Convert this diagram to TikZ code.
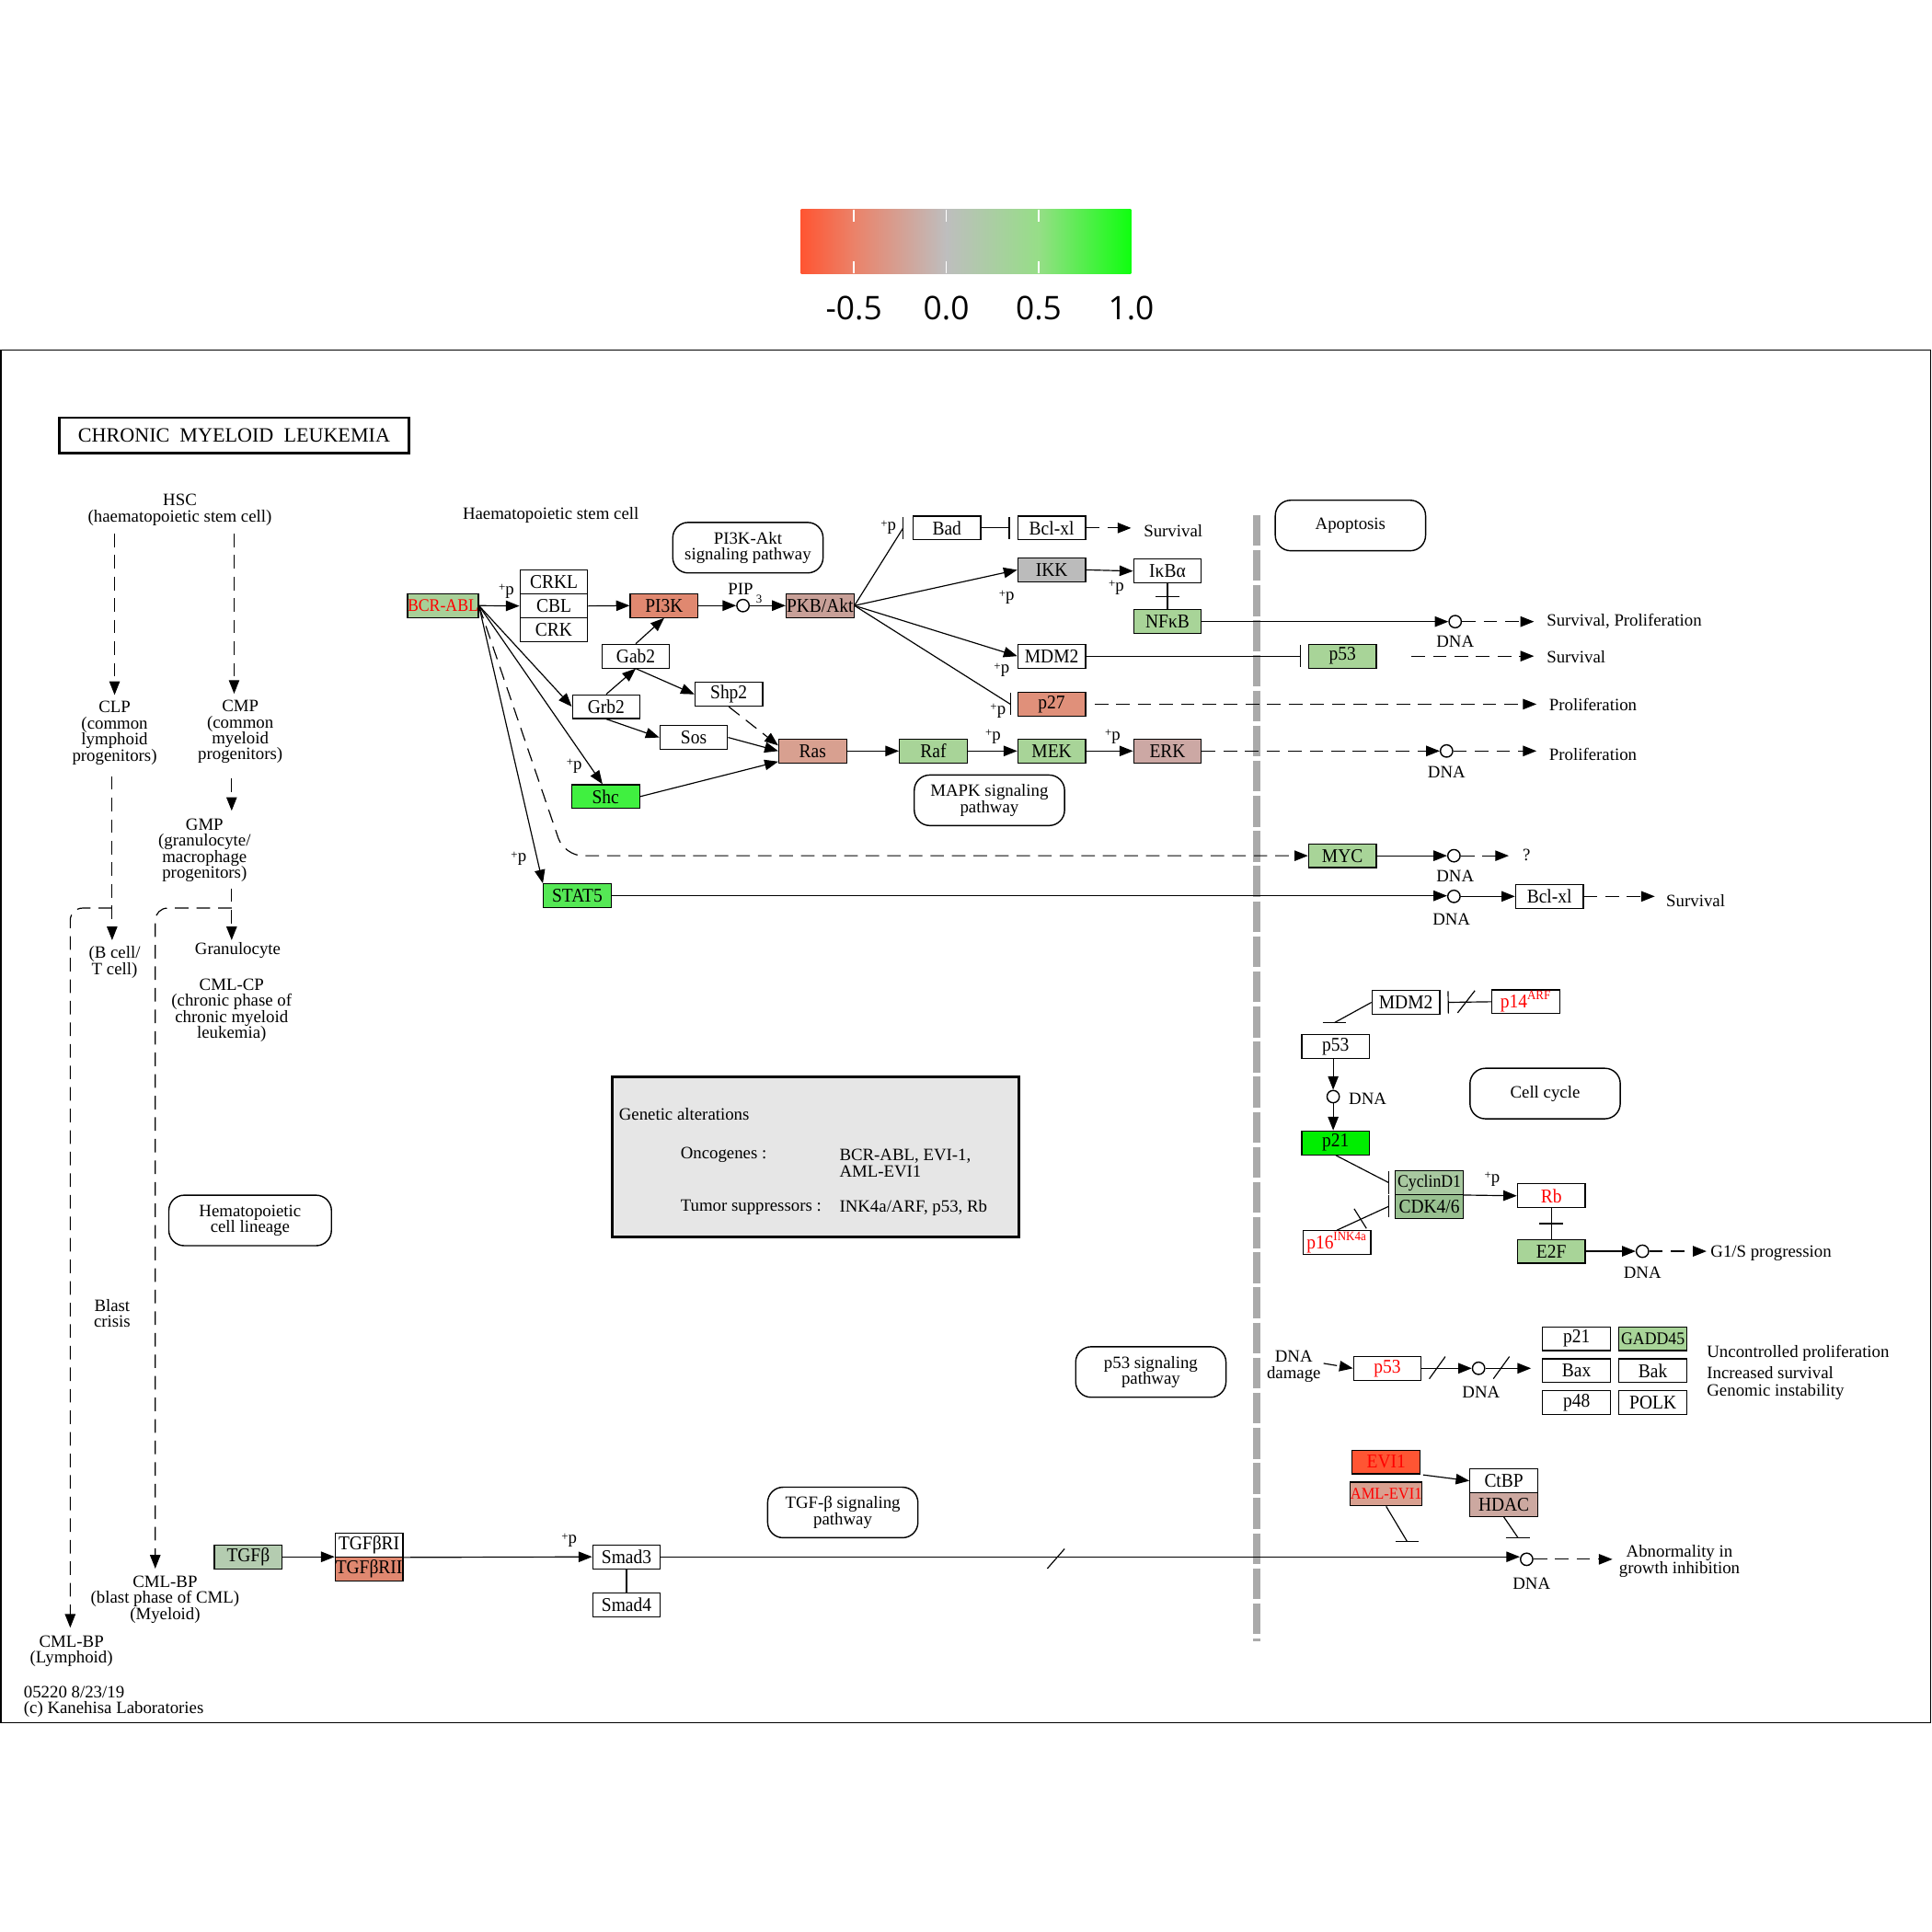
\documentclass[tikz,border=0pt]{standalone}
\usepackage{fontspec}
\setmainfont{Liberation Serif}
\newfontfamily\genefont{Liberation Serif}[FakeStretch=0.92]
\newfontfamily\cbfont{Open Sans}
\usetikzlibrary{arrows.meta,calc}
\definecolor{cbA}{RGB}{255,85,50}
\definecolor{cbB}{RGB}{235,130,105}
\definecolor{cbC}{RGB}{190,190,190}
\definecolor{cbD}{RGB}{150,222,135}
\definecolor{cbE}{RGB}{15,255,15}
\definecolor{gA}{RGB}{168,212,152}
\definecolor{gBcr}{RGB}{168,208,152}
\definecolor{rPI}{RGB}{224,136,112}
\definecolor{rPKB}{RGB}{200,160,152}
\definecolor{rRas}{RGB}{216,160,144}
\definecolor{gShc}{RGB}{64,240,64}
\definecolor{gStat}{RGB}{85,232,85}
\definecolor{rErk}{RGB}{204,168,164}
\definecolor{gIkk}{RGB}{187,187,187}
\definecolor{rPtw}{RGB}{224,144,122}
\definecolor{gPtw}{RGB}{0,238,0}
\definecolor{gCyc}{RGB}{168,200,160}
\definecolor{gCdk}{RGB}{152,192,144}
\definecolor{rEvi}{RGB}{255,85,51}
\definecolor{rAml}{RGB}{217,160,144}
\definecolor{rHdac}{RGB}{204,168,160}
\definecolor{gTgf}{RGB}{180,204,176}
\definecolor{rTgfr}{RGB}{224,136,112}
\definecolor{gaBg}{RGB}{230,230,230}
\definecolor{sepGray}{RGB}{170,170,170}
\newcommand{\plusp}{\raisebox{1.5pt}{\fontsize{5.5}{6}\selectfont+}p}
\tikzset{
  gene/.style={draw, line width=0.5pt, minimum width=1.1cm, minimum height=0.386cm,
    inner sep=0pt, font=\genefont\fontsize{9}{9}\selectfont},
  tight/.style={font=\genefont\fontsize{8.2}{8.2}\selectfont},
  lbl/.style={inner sep=0pt, font=\fontsize{8}{7.4}\selectfont, align=center},
  pw/.style={draw, line width=0.6pt, rounded corners=0.25cm, minimum width=2.44cm,
    minimum height=0.82cm, inner sep=0pt, font=\fontsize{8}{7.4}\selectfont, align=center},
  dna/.style={circle, draw, line width=0.6pt, minimum size=0.2cm, inner sep=0pt},
  act/.style={-{Triangle[length=0.22cm,width=0.17cm]}, line width=0.5pt},
  inh/.style={-{Bar[width=0.36cm]}, line width=0.5pt},
  dsh/.style={dash pattern=on 0.22cm off 0.13cm},
  ln/.style={line width=0.5pt}
}
\begin{document}
\begin{tikzpicture}[x=0.02cm,y=-0.02cm]
\fill[white] (0,0) rectangle (1568,1568);
\useasboundingbox (0,0) rectangle (1568,1568);

% ---------- colour bar ----------
\shade[left color=cbA, right color=cbB] (650,170) rectangle (693.2,222);
\shade[left color=cbB, right color=cbC] (693,170) rectangle (768.2,222);
\shade[left color=cbC, right color=cbD] (768,170) rectangle (843.2,222);
\shade[left color=cbD, right color=cbE] (843,170) rectangle (918,222);
\foreach \t in {693,768,843}{
  \draw[white, line width=0.6pt] (\t,170) -- (\t,180);
  \draw[white, line width=0.6pt] (\t,212) -- (\t,222);
}
\foreach \t/\s in {693/-0.5,768/0.0,843/0.5,918/1.0}{
  \node[inner sep=0pt, font=\cbfont\fontsize{15}{15}\selectfont] at (\t,250) {\s};
}

% ---------- frame ----------
\draw[line width=0.6pt] (0.6,284) rectangle (1567,1398);

% ---------- title ----------
\node[draw, line width=1.2pt, minimum width=5.68cm, minimum height=0.58cm, inner sep=0pt,
  font=\fontsize{9.4}{10}\selectfont] (title) at (190,353.5) {CHRONIC\ \ MYELOID\ \ LEUKEMIA};

% ---------- separator ----------
\draw[sepGray, line width=0.12cm, dash pattern=on 0.5cm off 0.07cm] (1020,418) -- (1020,1332);

% ---------- left lineage ----------
\node[lbl] (hsc) at (146,414) {HSC\\(haematopoietic stem cell)};
\node[lbl] (clp) at (93,595) {CLP\\(common\\lymphoid\\progenitors)};
\node[lbl] (cmp) at (195,594) {CMP\\(common\\myeloid\\progenitors)};
\node[lbl] (gmp) at (166,690) {GMP\\(granulocyte/\\macrophage\\progenitors)};
\node[lbl] (bt) at (93,781) {(B cell/\\T cell)};
\node[lbl] (gran) at (193,771) {Granulocyte};
\node[lbl] (cmlcp) at (188,820) {CML-CP\\(chronic phase of\\chronic myeloid\\leukemia)};
\node[lbl] (blast) at (91,1066) {Blast\\crisis};
\node[lbl] (bpm) at (134,1298) {CML-BP\\(blast phase of CML)\\(Myeloid)};
\node[lbl] (bpl) at (58,1340) {CML-BP\\(Lymphoid)};
\node[lbl, align=left, anchor=west] (foot) at (19,1381) {05220 8/23/19\\(c) Kanehisa Laboratories};

\draw[act,dsh] (93,433) -- (93,564);
\draw[act,dsh] (190,433) -- (190,563);
\draw[act,dsh] (91,630) -- (91,763);
\draw[act,dsh] (188,632) -- (188,658);
\draw[act,dsh] (188,721) -- (188,763);
\draw[act,dsh,rounded corners=0.2cm] (91,737) -- (57,737) -- (57,1321);
\draw[act,dsh,rounded corners=0.2cm] (188,737) -- (126,737) -- (126,1273);

\node[pw, minimum width=2.64cm] (hcl) at (203,990.5) {Hematopoietic\\cell lineage};

% ---------- main signalling ----------
\node[lbl] (hscell) at (447,418) {Haematopoietic stem cell};
\node[pw] (pi3kpw) at (607,444.5) {PI3K-Akt\\signaling pathway};
\node[pw] (apop) at (1096,426.5) {Apoptosis};
\node[pw] (mapk) at (803,649.5) {MAPK signaling\\pathway};

\node[gene, tight, fill=gBcr, text=red] (bcr) at (359.5,491.5) {BCR-ABL};
\node[gene] (crkl) at (449.5,472.5) {CRKL};
\node[gene] (cbl) at (449.5,491.8) {CBL};
\node[gene] (crk) at (449.5,511.1) {CRK};
\node[gene, fill=rPI] (pi3k) at (539,491.5) {PI3K};
\node[dna] (pip) at (603,491.5) {};
\node[gene, fill=rPKB] (pkb) at (665.5,491.5) {PKB/Akt};
\node[gene] (gab2) at (516,532.5) {Gab2};
\node[gene] (shp2) at (591.5,563.5) {Shp2};
\node[gene] (grb2) at (492,573.5) {Grb2};
\node[gene] (sos) at (563,598.5) {Sos};
\node[gene, fill=rRas] (ras) at (659.5,609.5) {Ras};
\node[gene, fill=gShc] (shc) at (491.5,646.5) {Shc};
\node[gene, fill=gStat] (stat5) at (468.5,727) {STAT5};
\node[gene] (bad) at (768.5,428.5) {Bad};
\node[gene] (bclxl) at (853.5,428.5) {Bcl-xl};
\node[gene, fill=gIkk] (ikk) at (853.5,462.5) {IKK};
\node[gene] (ikba) at (947.5,463.5) {IκBα};
\node[gene, fill=gA] (nfkb) at (947.5,504.5) {NFκB};
\node[gene] (mdm2) at (853.5,532.5) {MDM2};
\node[gene, fill=gA] (p53a) at (1089.5,532.5) {p53};
\node[gene, fill=rPtw] (p27) at (853.5,571.5) {p27};
\node[gene, fill=gA] (raf) at (757.5,609.5) {Raf};
\node[gene, fill=gA] (mek) at (853.5,609.5) {MEK};
\node[gene, fill=rErk] (erk) at (947.5,609.5) {ERK};
\node[gene, fill=gA] (myc) at (1089.5,694.5) {MYC};
\node[gene] (bclxl2) at (1257.5,727.5) {Bcl-xl};

\node[dna] (cnf) at (1181,504.5) {};
\node[dna] (cerk) at (1174,609.5) {};
\node[dna] (cmyc) at (1180,694.5) {};
\node[dna] (cstat) at (1180,727.5) {};
\node[lbl] at (1181,521) {DNA};
\node[lbl] at (1174,627) {DNA};
\node[lbl] at (1181,711) {DNA};
\node[lbl] at (1178,746) {DNA};

\node[lbl, anchor=west] (surv1) at (928,431) {Survival};
\node[lbl, anchor=west] (survprol) at (1255,504) {Survival, Proliferation};
\node[lbl, anchor=west] (surv2) at (1255,533) {Survival};
\node[lbl, anchor=west] (prol1) at (1257,572) {Proliferation};
\node[lbl, anchor=west] (prol2) at (1257,612) {Proliferation};
\node[lbl] (q) at (1239,694) {?};
\node[lbl, anchor=west] (surv4) at (1352,731) {Survival};

\node[lbl] at (601,478) {PIP};
\node[lbl, font=\fontsize{5.5}{6}\selectfont] at (616,486) {3};

\draw[act] (bcr.east) -- (cbl.west);
\node[lbl] at (411,480) {\plusp};
\draw[act] (cbl.east) -- (pi3k.west);
\draw[act] (pi3k.east) -- (pip.west);
\draw[act] (pip.east) -- (pkb.west);
\draw[act] (gab2.north) -- (pi3k.south);
\draw[act] (grb2.north) -- (gab2.south);
\draw[act] (gab2.south) -- (shp2.west);
\draw[act] (grb2.south) -- (sos.west);
\draw[act] (sos.east) -- (ras.west);
\draw[act,dsh] (shp2.south) -- ([yshift=0.09cm]ras.west);
\draw[act] (shc.east) -- ([yshift=0.03cm]ras.south west);
\draw[act] (bcr.east) -- (grb2.west);
\draw[act] (bcr.east) -- ([xshift=-0.05cm]shc.north);
\node[lbl] at (466,622) {\plusp};
\draw[act] (bcr.east) -- (stat5.north west);
\node[lbl] at (421,697) {\plusp};
\draw[act,dsh,rounded corners=0.3cm] (bcr.east) -- (458,694.5) -- (myc.west);

\draw[act] (stat5.east) -- (stat5.east -| cstat.west);
\draw[act] (cstat.east) -- (bclxl2.west);
\draw[act,dsh] (bclxl2.east) -- ([xshift=-0.18cm]surv4.west |- bclxl2.east);

\coordinate (badbar) at (733,428.5);
\draw[ln] (pkb.east) -- (badbar);
\draw[ln] (badbar) ++(0,-9) -- ++(0,18);
\node[lbl] at (721,428) {\plusp};
\draw[inh] (bad.east) -- ([xshift=-0.12cm]bclxl.west);
\draw[act,dsh] (bclxl.east) -- ([xshift=-0.2cm]surv1.west |- bclxl.east);
\draw[act] (pkb.east) -- (ikk.west);
\node[lbl] at (817,485) {\plusp};
\draw[act] (ikk.east) -- (ikba.west);
\node[lbl] at (906,477) {\plusp};
\draw[ln] (ikba.south) -- (nfkb.north);
\draw[ln] ($(ikba.south)!0.5!(nfkb.north)$) ++(-9.5,0) -- ++(19,0);
\draw[act] (nfkb.east) -- (cnf.west);
\draw[act,dsh] (cnf.east) -- ([xshift=-0.2cm]survprol.west |- cnf.east);
\draw[act] (pkb.east) -- (mdm2.west);
\node[lbl] at (813,544) {\plusp};
\draw[inh] (mdm2.east) -- ([xshift=-0.12cm]p53a.west);
\draw[act,dsh] ([xshift=0.56cm]p53a.east) -- ([xshift=-0.2cm]surv2.west |- p53a.east);
\coordinate (p27bar) at (820,571.5);
\draw[ln] (pkb.east) -- (p27bar);
\draw[ln] (p27bar) ++(0,-9) -- ++(0,18);
\node[lbl] at (810,577) {\plusp};
\draw[act,dsh] ([xshift=0.14cm]p27.east) -- ([xshift=-0.2cm]prol1.west |- p27.east);
\draw[act] (ras.east) -- (raf.west);
\draw[act] (raf.east) -- (mek.west);
\node[lbl] at (806,598) {\plusp};
\draw[act] (mek.east) -- (erk.west);
\node[lbl] at (903,598) {\plusp};
\draw[act,dsh] (erk.east) -- (cerk.west);
\draw[act,dsh] (cerk.east) -- ([xshift=-0.2cm]prol2.west |- cerk.east);
\draw[act] (myc.east) -- (cmyc.west);
\draw[act,dsh] (cmyc.east) -- ([xshift=-0.22cm]q.west |- cmyc.east);

% ---------- cell cycle ----------
\node[pw] (cc) at (1254,887.5) {Cell cycle};
\node[gene] (mdm2b) at (1141,813.5) {MDM2};
\node[gene, text=red] (p14) at (1238.5,813) {p14\textsuperscript{ARF}};
\node[gene] (p53b) at (1084,849.5) {p53};
\node[dna] (cp53) at (1082,890) {};
\node[lbl] at (1110,892) {DNA};
\node[gene, fill=gPtw] (p21a) at (1084,927.5) {p21};
\node[gene, tight, fill=gCyc] (cyc) at (1160,959.8) {CyclinD1};
\node[gene, fill=gCdk] (cdk) at (1160,979.1) {CDK4/6};
\node[gene, text=red] (p16) at (1085,1008.5) {p16\textsuperscript{INK4a}};
\node[gene, text=red] (rb) at (1259,970.5) {Rb};
\node[gene, fill=gA] (e2f) at (1259,1015.5) {E2F};
\node[dna] (ce2f) at (1333,1015.5) {};
\node[lbl] at (1333,1033) {DNA};
\node[lbl, anchor=west] (g1s) at (1388,1017) {G1/S progression};

\draw[inh] (p14.west) -- ([xshift=0.12cm]mdm2b.east);
\draw[ln] (1183,822) -- (1197,804);
\coordinate (p53bar) at (1083,830);
\draw[ln] (mdm2b.west) -- (p53bar);
\draw[ln] (p53bar) ++(-9.5,0) -- ++(19,0);
\draw[act] (p53b.south -| cp53.north) -- (cp53.north);
\draw[act] (cp53.south) -- (cp53.south |- p21a.north);
\coordinate (cycbar) at (1127,959.8);
\draw[ln] (p21a.south) -- (cycbar);
\draw[ln] (cycbar) ++(0,-9) -- ++(0,18);
\coordinate (cdkbar) at (1127,979.1);
\draw[ln] (p16.north) -- (cdkbar);
\draw[ln] (cdkbar) ++(0,-9) -- ++(0,18);
\draw[ln] (1099,981) -- (1109,997);
\draw[act] (cyc.south east) -- (rb.west);
\node[lbl] at (1211,957) {\plusp};
\draw[ln] (rb.south) -- (e2f.north);
\draw[ln] ($(rb.south)!0.5!(e2f.north)$) ++(-9.5,0) -- ++(19,0);
\draw[act] (e2f.east) -- (ce2f.west);
\draw[act,dsh] (ce2f.east) -- ([xshift=-0.06cm]g1s.west |- ce2f.east);

% ---------- p53 / DNA damage ----------
\node[pw] (p53pw) at (934,1113.5) {p53 signaling\\pathway};
\node[lbl] (dnad) at (1050,1109) {DNA\\damage};
\node[gene, text=red] (p53c) at (1126,1110.5) {p53};
\node[dna] (cp53c) at (1200,1110.5) {};
\node[lbl] at (1202,1130) {DNA};
\node[gene] (p21b) at (1279.5,1086.5) {p21};
\node[gene, tight, fill=gA] (gadd) at (1341.5,1086.5) {GADD45};
\node[gene] (bax) at (1279.5,1112.5) {Bax};
\node[gene] (bak) at (1341.5,1112.5) {Bak};
\node[gene] (p48) at (1279.5,1138.5) {p48};
\node[gene] (polk) at (1341.5,1138.5) {POLK};
\node[lbl, anchor=west] at (1385,1098) {Uncontrolled proliferation};
\node[lbl, anchor=west] at (1385,1114) {Increased survival};
\node[lbl, anchor=west] at (1385,1130) {Genomic instability};

\draw[act,dsh] ([xshift=0.04cm,yshift=0.05cm]dnad.east) -- (p53c.west);
\draw[act] (p53c.east) -- (cp53c.west);
\draw[ln] (1160,1119) -- (1173,1101);
\draw[act] (cp53c.east) -- ([xshift=-0.18cm]bax.west |- cp53c.east);
\draw[ln] (1212,1119) -- (1225,1101);

% ---------- EVI1 ----------
\node[gene, fill=rEvi, text=red] (evi1) at (1125,1186.5) {EVI1};
\node[gene, fill=rAml, text=red, font=\genefont\fontsize{7.6}{7.6}\selectfont] (aml) at (1125,1212.5) {AML-EVI1};
\node[gene] (ctbp) at (1220.5,1201.8) {CtBP};
\node[gene, fill=rHdac] (hdac) at (1220.5,1221.1) {HDAC};
\draw[act] (1155,1197) -- (ctbp.west);
\coordinate (amlbar) at (1142,1251);
\draw[ln] (aml.south) -- (amlbar);
\draw[ln] (amlbar) ++(-9.5,0) -- ++(19,0);
\coordinate (hdacbar) at (1232,1248);
\draw[ln] (hdac.south) -- (hdacbar);
\draw[ln] (hdacbar) ++(-10,0) -- ++(20,0);

% ---------- TGF-beta ----------
\node[pw] (tgfpw) at (684,1227.5) {TGF-β signaling\\pathway};
\node[gene, fill=gTgf] (tgfb) at (201.5,1263.5) {TGFβ};
\node[gene] (tgfr1) at (299.5,1253.9) {TGFβRI};
\node[gene, fill=rTgfr] (tgfr2) at (299.5,1273.2) {TGFβRII};
\node[gene] (smad3) at (508.5,1263.5) {Smad3};
\node[gene] (smad4) at (508.5,1302.5) {Smad4};
\node[dna] (csmad) at (1239,1265.5) {};
\node[lbl] at (1243,1285) {DNA};
\node[lbl] (abn) at (1363,1267) {Abnormality in\\growth inhibition};

\draw[act] (tgfb.east) -- (tgfb.east -| tgfr1.west);
\draw[act] (tgfr1.south east) -- (smad3.west);
\node[lbl] at (462,1250) {\plusp};
\draw[ln] (smad3.south) -- (smad4.north);
\draw[act] (smad3.east) -- (smad3.east -| csmad.west);
\draw[ln] (850,1273) -- (864,1257);
\draw[act,dsh] (csmad.east) -- ([xshift=-0.1cm]abn.west |- csmad.east);

% ---------- genetic alterations ----------
\node[draw, line width=1.2pt, fill=gaBg, minimum width=6.6cm, minimum height=2.6cm] (ga) at (662,939) {};
\node[lbl, anchor=west] at (502,904) {Genetic alterations};
\node[lbl, anchor=west] at (552,937) {Oncogenes :};
\node[lbl, anchor=west, align=left] at (681,944) {BCR-ABL, EVI-1,\\AML-EVI1};
\node[lbl, anchor=west] at (552,980) {Tumor suppressors :};
\node[lbl, anchor=west] at (681,980) {INK4a/ARF, p53, Rb};
\end{tikzpicture}
\end{document}
